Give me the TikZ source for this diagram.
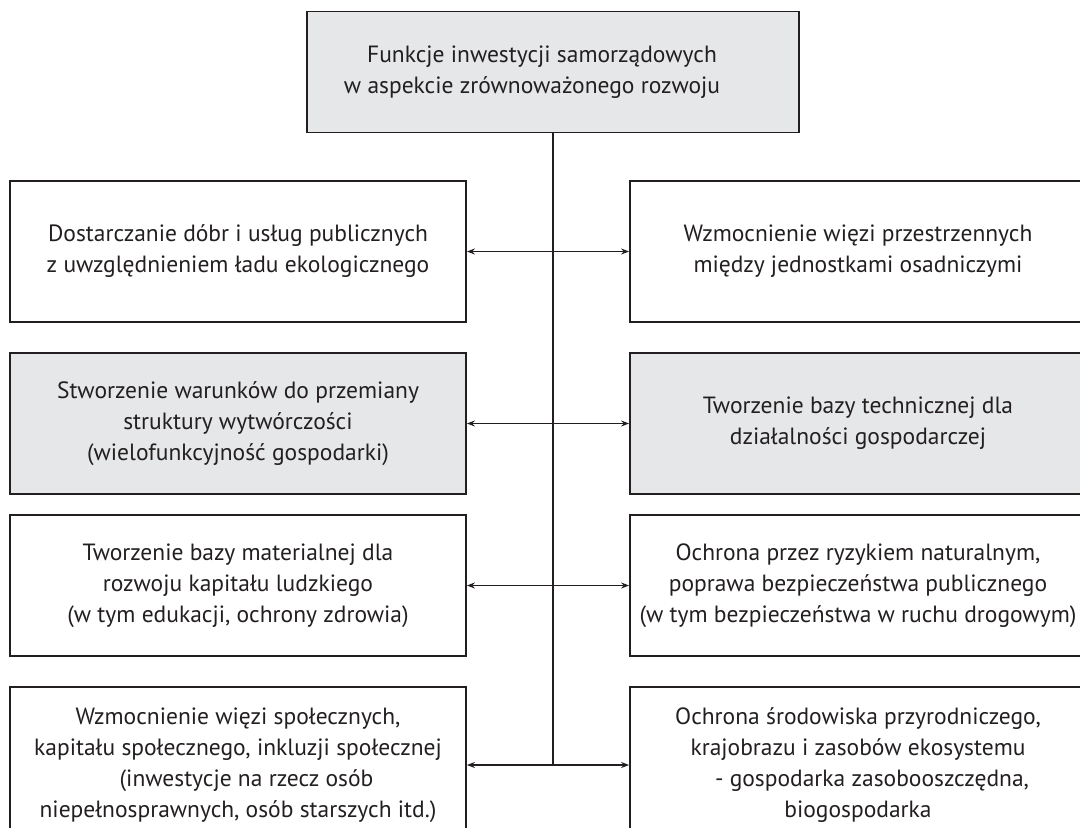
\documentclass[tikz,border=0pt]{standalone}
\usepackage{fontspec}
\setmainfont{PT Sans}
\usetikzlibrary{arrows.meta}
\definecolor{ink}{HTML}{231F20}
\definecolor{boxgray}{HTML}{E6E7E8}

\begin{document}
\begin{tikzpicture}[x=1pt,y=-1pt,
	every node/.style={font=\fontsize{23.5}{31}\selectfont, text=ink, align=center},
	funcbox/.style={draw=ink, line width=1.8pt, minimum width=456pt, minimum height=141pt, inner sep=0pt},
	funcboxgray/.style={funcbox, fill=boxgray},
	link/.style={draw=ink, line width=1.4pt, arrows={Stealth[length=8pt,width=6pt]-Stealth[length=8pt,width=6pt]}}]
			\useasboundingbox (0,0) rectangle (1080,828);
			\clip (0,0) rectangle (1080,828);
			\node[funcboxgray, minimum width=492pt, minimum height=121pt] (top) at (553,72)
				{Funkcje inwestycji samorządowych\hspace*{22pt}\\ w aspekcie zrównoważonego rozwoju\hspace*{42pt}};
			\node[funcbox] (l1) at (238,251.5) {Dostarczanie dóbr i usług publicznych\\ z uwzględnieniem ładu ekologicznego};
			\node[funcbox] (r1) at (858,251.5) {Wzmocnienie więzi przestrzennych\\ między jednostkami osadniczymi};
			\node[funcboxgray] (l2) at (238,423.5) {Stworzenie warunków do przemiany\\ struktury wytwórczości\\ (wielofunkcyjność gospodarki)};
			\node[funcboxgray] (r2) at (858,423.5) {Tworzenie bazy technicznej dla\\ działalności gospodarczej};
			\node[funcbox] (l3) at (238,585.5) {Tworzenie bazy materialnej dla\\ rozwoju kapitału ludzkiego\\ (w tym edukacji, ochrony zdrowia)};
			\node[funcbox] (r3) at (858,585.5) {Ochrona przez ryzykiem naturalnym,\\ poprawa bezpieczeństwa publicznego\\ (w tym bezpieczeństwa w ruchu drogowym)};
			\node[funcbox, minimum height=156pt] (l4) at (238,765) {Wzmocnienie więzi społecznych,\\ kapitału społecznego, inkluzji społecznej\\ \hspace*{17pt}(inwestycje na rzecz osób\\ niepełnosprawnych, osób starszych itd.)};
			\node[funcbox, minimum height=156pt] (r4) at (858,765) {Ochrona środowiska przyrodniczego,\\ krajobrazu i zasobów ekosystemu\\ \hspace*{28pt}- gospodarka zasobooszczędna,\\ biogospodarka};
			\draw[ink, line width=1.6pt] (top.south) -- (top.south |- l4.east);
			\draw[link] (l1.east) -- (r1.west);
			\draw[link] (l2.east) -- (r2.west);
			\draw[link] (l3.east) -- (r3.west);
			\draw[link] (l4.east) -- (r4.west);
		\end{tikzpicture}
\end{document}
